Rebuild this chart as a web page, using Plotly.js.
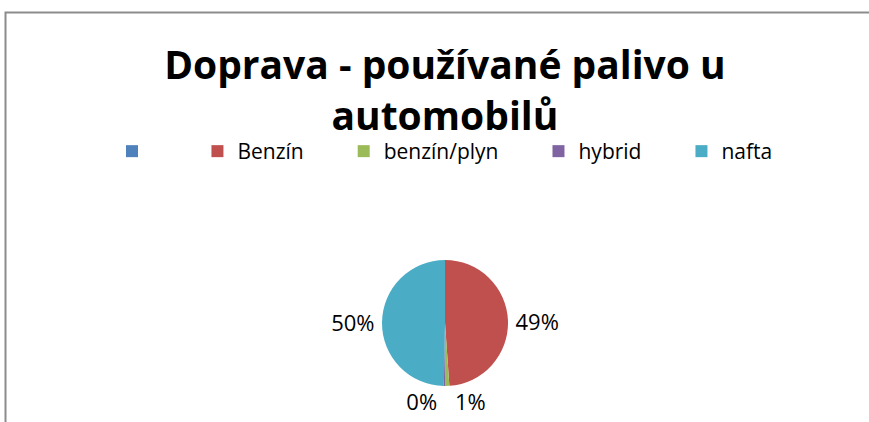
<!DOCTYPE html>
<html>
<head>
<meta charset="utf-8">
<script src="https://cdn.plot.ly/plotly-3.0.1.min.js"></script>
<style>html,body{margin:0;padding:0;background:#fff;}#chart{width:869px;height:422px;}</style>
</head>
<body>
<div id="chart"></div>
<script>
// Data
const categories = ["\u00a0", "Benzín", "benzín/plyn", "hybrid", "nafta"];
const shares = [0, 48.9, 1.0, 0.4, 49.7];
const sliceColors = ["#4F81BD", "#C0504D", "#9BBB59", "#8064A2", "#4BACC6"];
const sliceTexts = ["", "%{percent:.0%}", "%{percent:.0%}", "%{percent:.0%}", "%{percent:.0%}"];
const chartTitle = "Doprava - používané palivo u<br>automobilů";

const FONT = "'Open Sans', Calibri, sans-serif";
const pad = "\u2003\u2002\u2009";

const trace = {
  type: "pie",
  labels: categories.map((c, i) => i < categories.length - 1 ? c + pad : c),
  values: shares,
  marker: {colors: sliceColors, line: {width: 0}},
  sort: false,
  direction: "clockwise",
  rotation: 0,
  texttemplate: sliceTexts,
  textposition: "outside",
  outsidetextfont: {family: FONT, size: 22, color: "#000"},
  hoverinfo: "label+percent",
  domain: {x: [0.4396, 0.5846], y: [0.0853, 0.3839]},
  showlegend: true
};

const layout = {
  width: 869, height: 422,
  margin: {l: 0, r: 0, t: 0, b: 0},
  paper_bgcolor: "#fff",
  font: {family: FONT, color: "#000"},
  title: {
    text: chartTitle,
    font: {family: FONT, size: 39, weight: "bold", color: "#000"},
    x: 0.512, xanchor: "center",
    y: 1 - 79/422, yanchor: "top", yref: "container"
  },
  legend: {
    orientation: "h",
    x: 112/869, xanchor: "left",
    y: 1 - 131/422, yanchor: "top",
    font: {family: FONT, size: 21, color: "#000"},
    traceorder: "normal",
    bgcolor: "rgba(0,0,0,0)"
  },
  shapes: [{
    type: "rect", xref: "paper", yref: "paper",
    x0: 5.5/869, x1: 1.2, y0: -0.2, y1: 1 - 12.5/422,
    line: {color: "#8c8c8c", width: 2}, fillcolor: "rgba(0,0,0,0)", layer: "below"
  }]
};

Plotly.newPlot("chart", [trace], layout, {displayModeBar: false, staticPlot: true});
</script>
</body>
</html>
